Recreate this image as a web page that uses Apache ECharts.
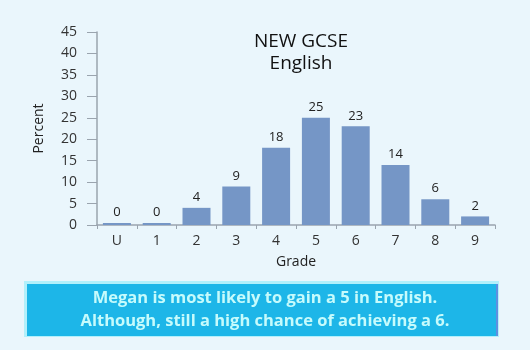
<!DOCTYPE html>
<html><head><meta charset="utf-8">
<script src="https://cdn.jsdelivr.net/npm/echarts@6/dist/echarts.min.js"></script>
<style>html,body{margin:0;padding:0;background:#eaf6fc;}#c{width:530px;height:350px;}</style>
</head><body><div id="c"></div>
<script>
var categories = ['U','1','2','3','4','5','6','7','8','9'];
var values = [0,0,4,9,18,25,23,14,6,2];
var yTicks = [0,5,10,15,20,25,30,35,40,45];
var titleLines = ['NEW GCSE','English'];
var noteLines = ['Megan is most likely to gain a 5 in English.','Although, still a high chance of achieving a 6.'];

var chart = echarts.init(document.getElementById('c'), null, {renderer:'canvas'});
var font = '"Open Sans", "Noto Sans", sans-serif';
chart.setOption({
  backgroundColor:'#eaf6fc',
  animation:false,
  title:{text:titleLines.join('\n'), left:296, top:26, textAlign:'center',
    textStyle:{fontFamily:font, fontSize:19, fontWeight:'normal', color:'#111', lineHeight:22}},
  grid:{left:97, right:35, top:32, bottom:125, containLabel:false},
  xAxis:{type:'category', data:categories, name:'Grade', nameLocation:'middle', nameGap:30,
    nameTextStyle:{fontFamily:font, fontSize:14, color:'#222'},
    axisLine:{lineStyle:{color:'#9aa4ae', width:1.5}},
    axisTick:{show:true, alignWithLabel:false, length:4, lineStyle:{color:'#9aa4ae'}},
    axisLabel:{fontFamily:font, fontSize:14, color:'#333', margin:9}},
  yAxis:{type:'value', min:yTicks[0], max:yTicks[yTicks.length-1], interval:5, name:'Percent', nameLocation:'middle', nameGap:51,
    nameRotate:90,
    nameTextStyle:{fontFamily:font, fontSize:14, color:'#222'},
    splitLine:{show:false},
    axisLine:{show:true, lineStyle:{color:'#9aa4ae', width:1.5}},
    axisTick:{show:true, length:10, lineStyle:{color:'#9aa4ae'}},
    axisLabel:{fontFamily:font, fontSize:14, color:'#333', margin:20}},
  series:[{type:'bar', data:values, barWidth:28, barMinHeight:2,
    itemStyle:{color:'#7596c6'},
    label:{show:true, position:'top', distance:4, fontFamily:font, fontSize:13, color:'#222'}}],
  graphic:[
    {type:'rect', shape:{x:24, y:281, width:475, height:56}, style:{fill:'#b2f0fb'}},
    {type:'rect', shape:{x:27, y:284, width:471, height:52}, style:{fill:'#1db6e8'}},
    {type:'rect', shape:{x:496, y:284, width:2, height:52}, style:{fill:'#5f8fe0'}},
    {type:'text', left:'center', top:287, style:{text:noteLines.join('\n'), fill:'#c6fbfc', textAlign:'center',
      font:'bold 16.5px "Open Sans", "Noto Sans", sans-serif', lineHeight:23}}
  ]
});
</script></body></html>
